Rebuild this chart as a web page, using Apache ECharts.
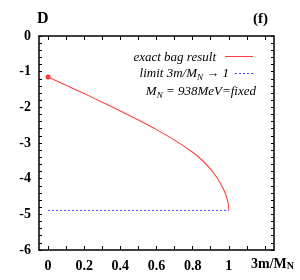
<!DOCTYPE html>
<html><head><meta charset="utf-8">
<script src="https://cdn.jsdelivr.net/npm/echarts@6/dist/echarts.min.js"></script>
<style>html,body{margin:0;padding:0;background:#fff}#c{width:300px;height:280px}</style>
</head><body><div id="c"></div>
<script>
var xRatio = [0, 0.1, 0.2, 0.3, 0.4, 0.5, 0.6, 0.7, 0.8, 0.85, 0.9, 0.93, 0.95, 0.97, 0.98, 0.99, 0.997, 1.0];
var dExact = [-1.15, -1.38, -1.615, -1.855, -2.10, -2.355, -2.625, -2.92, -3.26, -3.47, -3.74, -3.94, -4.10, -4.29, -4.41, -4.56, -4.71, -4.87];
var limitX = [0, 1];
var limitD = [-4.89, -4.89];
var xTicks = [0, 0.2, 0.4, 0.6, 0.8, 1];
var xMinorTicks = [0, 0.1, 0.2, 0.3, 0.4, 0.5, 0.6, 0.7, 0.8, 0.9, 1.0, 1.1, 1.2];
var yMinorTicks = [0, -0.2, -0.4, -0.6, -0.8, -1, -1.2, -1.4, -1.6, -1.8, -2, -2.2, -2.4, -2.6, -2.8, -3,
  -3.2, -3.4, -3.6, -3.8, -4, -4.2, -4.4, -4.6, -4.8, -5, -5.2, -5.4, -5.6, -5.8, -6];

var chart = echarts.init(document.getElementById('c'), null, {renderer: 'canvas'});
var serif = '"Liberation Serif","DejaVu Serif",serif';
var axisLineStyle = {color: '#000', width: 1.5};
function xAxisDef(pos, showLabel) {
  return {
    type: 'value', position: pos, min: -0.05, max: 1.25,
    axisLine: {show: true, onZero: false, lineStyle: axisLineStyle},
    axisTick: {show: true, inside: true, length: 4, lineStyle: {color: '#000', width: 1}, customValues: xMinorTicks},
    axisLabel: {show: showLabel, customValues: xTicks, color: '#000', fontFamily: serif, fontWeight: 'bold', fontSize: 14, margin: 9,
      formatter: function (v) { return String(v); }},
    splitLine: {show: false}
  };
}
function yAxisDef(pos, showLabel) {
  return {
    type: 'value', position: pos, min: -6, max: 0, interval: 1,
    axisLine: {show: true, onZero: false, lineStyle: axisLineStyle},
    axisTick: {show: true, inside: true, length: 3, lineStyle: {color: '#000', width: 1}, customValues: yMinorTicks},
    axisLabel: {show: showLabel, color: '#000', fontFamily: serif, fontWeight: 'bold', fontSize: 14, margin: 8},
    splitLine: {show: false}
  };
}
chart.setOption({
  animation: false,
  backgroundColor: '#fff',
  grid: {left: 39, top: 36, right: 26, bottom: 30},
  xAxis: [xAxisDef('bottom', true), xAxisDef('top', false)],
  yAxis: [yAxisDef('left', true), yAxisDef('right', false)],
  series: [
    {type: 'line', xAxisIndex: 0, yAxisIndex: 0, data: xRatio.map(function (x, i) { return [x, dExact[i]]; }),
      smooth: 0.15, showSymbol: false, lineStyle: {color: '#ff4040', width: 1.1}},
    {type: 'scatter', xAxisIndex: 0, yAxisIndex: 0, data: [[xRatio[0], dExact[0]]], symbolSize: 5,
      itemStyle: {color: '#ff0000'}},
    {type: 'line', xAxisIndex: 0, yAxisIndex: 0, data: limitX.map(function (x, i) { return [x, limitD[i]]; }),
      showSymbol: false, lineStyle: {color: '#4040ff', width: 1, type: [2, 2]}}
  ],
  graphic: [
    {type: 'text', left: 37, top: 11, style: {text: 'D', font: 'bold 16px ' + serif, fill: '#000'}},
    {type: 'text', left: 253, top: 12, style: {text: '(f)', font: 'bold 15px ' + serif, fill: '#000'}},
    {type: 'text', left: 251, top: 257, style: {
      text: '{a|3m/M}{s|N}', rich: {
        a: {fontFamily: serif, fontWeight: 'bold', fontSize: 14, fill: '#000', verticalAlign: 'bottom'},
        s: {fontFamily: serif, fontWeight: 'bold', fontSize: 10, fill: '#000', padding: [6, 0, 0, 0]}
      }}},
    {type: 'text', x: 216, y: 58, style: {text: 'exact bag result', align: 'right', verticalAlign: 'middle', font: 'italic 13px ' + serif, fill: '#000'}},
    {type: 'line', shape: {x1: 225, y1: 56.5, x2: 253, y2: 56.5}, style: {stroke: '#ff4040', lineWidth: 1}},
    {type: 'text', x: 229, y: 74, style: {
      text: '{i|limit 3m/M}{s|N}{i| \u2192 1}', align: 'right', verticalAlign: 'middle',
      rich: {
        i: {fontFamily: serif, fontStyle: 'italic', fontSize: 13, fill: '#000'},
        s: {fontFamily: serif, fontStyle: 'italic', fontSize: 9, fill: '#000', padding: [7, 0, 0, 0]}
      }}},
    {type: 'line', shape: {x1: 235, y1: 73.5, x2: 253, y2: 73.5}, style: {stroke: '#4040ff', lineWidth: 1, lineDash: [2, 2]}},
    {type: 'text', x: 256, y: 92, style: {
      text: '{i|M}{s|N}{i| = 938MeV=fixed}', align: 'right', verticalAlign: 'middle',
      rich: {
        i: {fontFamily: serif, fontStyle: 'italic', fontSize: 13, fill: '#000'},
        s: {fontFamily: serif, fontStyle: 'italic', fontSize: 9, fill: '#000', padding: [7, 0, 0, 0]}
      }}}
  ]
});
</script>
</body></html>
